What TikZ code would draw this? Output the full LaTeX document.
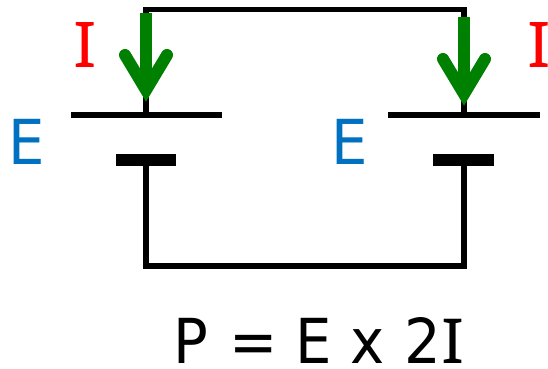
\documentclass[tikz,border=0pt]{standalone}
\usepackage{fontspec}
\setmainfont{DejaVu Sans}[FakeStretch=0.93]
\newfontfamily\ifont{Noto Sans}[FakeStretch=1.1]
\definecolor{eblue}{HTML}{0070C0}
\definecolor{igreen}{HTML}{008000}
\tikzset{
  wire/.style={draw=black,line width=5.5pt,line cap=rect,line join=miter},
  thinplate/.style={draw=black,line width=5.5pt},
  thickplate/.style={draw=black,line width=12pt},
  flow/.style={draw=igreen,line width=12pt},
  flowhead/.style={draw=igreen,line width=12pt,line cap=round,line join=miter},
  lbl/.style={anchor=base west,inner sep=0pt,font=\fontsize{62}{62}\selectfont},
  ilbl/.style={anchor=base west,inner sep=0pt,text=red,font=\fontsize{63}{63}\selectfont\ifont},
}
\begin{document}
\begin{tikzpicture}[x=1pt,y=-1pt]
\useasboundingbox (0,0) rectangle (548,368);
\coordinate (tl) at (146,9.5);
\coordinate (tr) at (464,9.5);
\coordinate (pl) at (146,115);
\coordinate (pr) at (464,115);
\coordinate (ql) at (146,160);
\coordinate (qr) at (464,160);
\coordinate (bl) at (146,266);
\coordinate (br) at (464,266);
\draw[wire] (pl) -- (tl) -- (tr) -- (pr);
\draw[wire] (ql) -- (bl) -- (br) -- (qr);
\draw[thinplate] (71,115) -- (222,115);
\draw[thinplate] (388.3,115) -- (539.7,115);
\draw[thickplate] (116,160) -- (176.3,160);
\draw[thickplate] (433.3,160) -- (494,160);
\draw[flow] (146,13) -- (146,85);
\draw[flowhead] (125,55) -- (146,90) -- (167,55);
\draw[flow] (464,17) -- (464,89);
\draw[flowhead] (443,59) -- (464,94) -- (485,59);
\node[ilbl] (il) at (73,67) {I};
\node[ilbl] (ir) at (527,67) {I};
\node[lbl,text=eblue] (el) at (8.4,164) {E};
\node[lbl,text=eblue] (er) at (330.8,164) {E};
\node[lbl] (p) at (172.8,363) {P\kern3pt\ = E x\kern2pt\ 2{\ifont I}};
\end{tikzpicture}
\end{document}
